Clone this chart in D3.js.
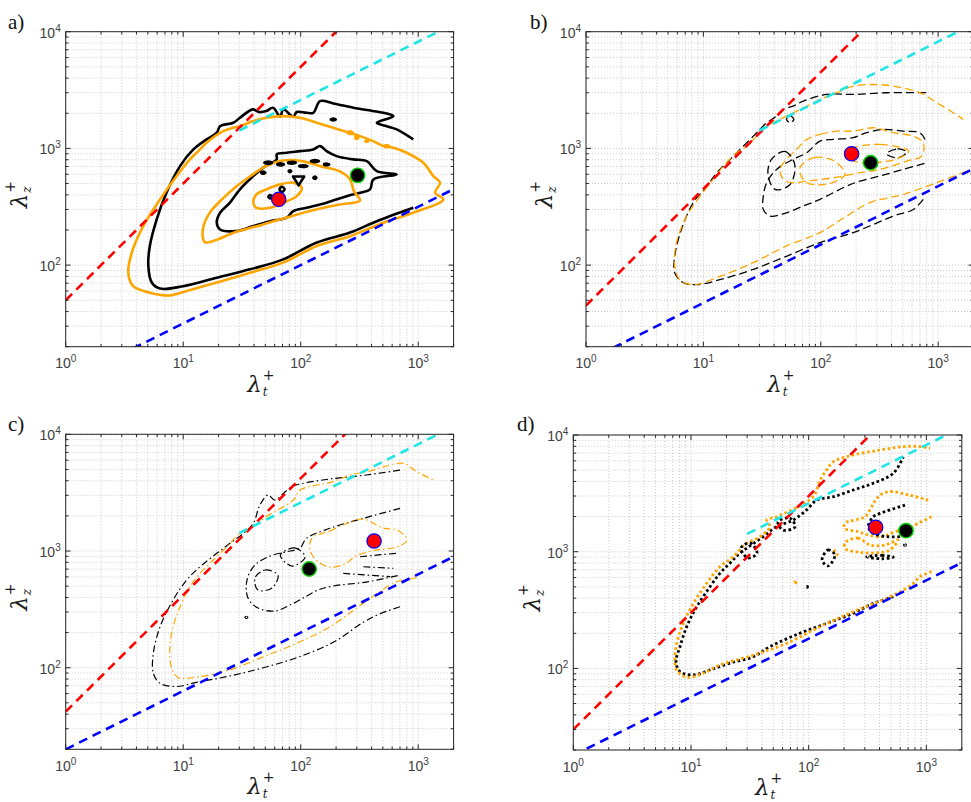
<!DOCTYPE html>
<html>
<head>
<meta charset="utf-8">
<script src="https://cdn.jsdelivr.net/npm/d3@7"></script>
<style>
  body { margin: 0; background: #ffffff; }
  svg { display: block; }
</style>
</head>
<body>
<svg id="fig" width="971" height="802"></svg>
<script>
// ---------- axes ----------
const LT_DOMAIN = [1, 2000];
const LZ_DOMAIN = [20, 10000];
const LT_MAJOR = [1, 10, 100, 1000];
const LZ_MAJOR = [100, 1000, 10000];
const PANEL_TAGS = ["a)", "b)", "c)", "d)"];

// ---------- guide lines  lambda_z = k * lambda_t^p ----------
const RED_COEF = [50, 45, 42, 30];       // p = 1
const CYAN_COEF = [260, 260, 260, 260];  // p = 1/2, from lambda_t = 30
const BLUE_COEF = [10, 15, 20, 18];      // p = 1/2
const CYAN_START = 30;

// ---------- spectral peaks ----------
const PEAK_RED = [[65, 366], [183, 900], [421, 1218], [371, 1618]];
const PEAK_BLACK = [[305, 588], [266, 754], [118, 701], [671, 1514]];

// ---------- panel a contours (lambda_t, lambda_z) ----------
const aBlackOuter = [[908,310],[444,238],[263,190],[137,156],[71,112],[37,92],[19.3,78],[10,66],[6.35,63],[5.4,71],[5.05,98],[5.2,146],[5.95,247],[7.2,417],[9.4,705],[12.2,980],[15.8,1194],[19.3,1364],[20.6,1550],[26.7,1660],[30.4,1830],[39,2160],[44,2050],[51,2090],[58,2230],[67,1870],[71,2160],[86.5,1870],[92.5,2050],[112,2020],[128,2020],[146,2540],[189,2430],[280,2230],[365,2130],[505,2020],[614,1890],[444,1660],[540,1550],[656,1455],[908,1194]];
const aBlackMid = [[19.3,231],[20.6,281],[25,343],[30.4,446],[39.5,580],[48,684],[62.5,805],[62.5,889],[76,918],[98.6,948],[128,980],[146,1047],[166,948],[202,859],[280,805],[365,778],[444,638],[656,598],[415,542],[389,446],[320,417],[246,390],[166,343],[112,310],[86.5,290],[76,255],[55,238],[39.5,216],[28.5,196],[20.6,202]];
const aOrangeOuter = [[1636,366],[908,281],[505,231],[263,177],[137,146],[71,105],[37,86],[19.3,71],[10.7,60],[7.7,55],[5.2,58],[3.76,66],[3.41,86],[3.65,128],[4.57,216],[6.35,366],[8.8,580],[11.4,805],[13.9,980],[15.8,1119],[21.9,1406],[26.7,1503],[30.4,1550],[39.5,1714],[51,1830],[71,1890],[98.6,1830],[137,1660],[189,1503],[320,1274],[415,1155],[505,1047],[614,1014],[798,918],[1105,754],[1344,580],[1535,508],[1390,417]];
const aOrangeMid = [[14.8,166],[14.8,210],[16.9,283],[21.4,366],[27.6,463],[37,575],[50,701],[71,789],[105,774],[146,705],[216,635],[263,542],[284,428],[320,358],[216,331],[146,306],[93,272],[48,223],[27.6,191],[18.7,163],[15.3,157]];
const aOrangeInner = [[39.5,343],[42,404],[51,446],[67,492],[86.5,508],[102,460],[92.5,390],[71,343],[55,310],[42,310]];
const aBlackIslands = [
  [[49,754],[53,772],[57,754],[53,737]],
  [[63,729],[67,745],[72,729],[67,713]],
  [[78,754],[84,768],[91,754],[84,740]],
  [[97,705],[105,718],[114,705],[105,692]],
  [[122,778],[132,795],[143,778],[132,762]],
  [[158,729],[166,740],[175,729],[166,718]],
  [[46,619],[48,632],[50,619],[48,606]],
  [[79,638],[81,650],[83,638],[81,626]],
  [[128,561],[132,575],[136,561],[132,548]],
  [[66,446],[69,470],[73,446],[69,425]],
  [[53,385],[55,398],[57,385],[55,373]],
  [[180,1770],[189,1800],[199,1770],[189,1740]]
];
const aBlackTriangle = [[86,575],[107,575],[96,482]];
const aOrangeIslands = [
  [[250,1364],[263,1400],[277,1364],[263,1330]],
  [[290,1236],[300,1265],[310,1236],[300,1208]],
  [[355,1155],[365,1175],[376,1155],[365,1136]],
  [[515,1047],[540,1070],[566,1047],[540,1025]]
];

// ---------- panel b contours ----------
const bBlackOuter = [[747,366],[614,300],[415,263],[189,190],[98.5,156],[51,119],[26.6,92],[13.8,75],[8.8,68],[6.7,71],[5.7,86],[5.7,119],[6.5,202],[8.2,343],[10.7,475],[13,619],[16.9,805],[20.5,980],[25,1194],[30.3,1455],[34.6,1660],[42,1890],[48,2160],[58,2300],[71,2540],[112,2900],[189,2900],[364,3000],[798,3000]];
const bOrangeOuter = [[1750,638],[971,508],[505,404],[262,343],[166,263],[98.5,190],[51,146],[26.6,105],[13.8,80],[8.2,68],[6.3,75],[5.7,98],[5.9,156],[7.2,263],[9.4,390],[12.1,542],[14.8,705],[19.2,918],[23.4,1047],[28.4,1274],[34.6,1550],[51,1890],[76,2300],[98.5,2630],[137,3000],[189,3420],[280,3530],[415,3420],[700,3000],[971,2470],[1345,2020],[1636,1774]];
const bBlackMid = [[773,1194],[700,1364],[505,1406],[341,1455],[246,1364],[189,1236],[128,1194],[98.5,1155],[76,918],[58,805],[42,661],[34.6,508],[32.4,390],[32.4,300],[37,263],[51,281],[71,321],[98.5,366],[166,475],[216,525],[319,580],[505,661],[798,754]];
const bOrangeMid = [[76,1194],[98.5,1318],[137,1406],[189,1406],[280,1503],[415,1364],[614,1274],[747,1119],[723,859],[540,778],[319,661],[216,619],[128,561],[76,525],[58,508],[48,542],[45,661],[51,805],[62,980]];
const bBlackIslands = [
  [[363,900],[450,990],[540,930],[450,830]],
  [[38,805],[49.5,943],[60,729],[54.7,491],[40.7,446],[35.5,598]],
  [[51,1774],[55,1900],[59,1774],[55,1660]]
];
const bOrangeIslands = [
  [[177,980],[319,1082],[562,943],[428,805],[216,759],[161,853]],
  [[66.5,687],[89,837],[132,774],[161,598],[109,491],[73,521]]
];

// ---------- panel c contours ----------
const cBlackOuter = [[700,333],[473,290],[341,245],[189,165],[92.5,122],[48,100],[25,85],[13,75],[8.8,69],[6.35,73.5],[5.57,89.5],[5.57,133],[6.35,224],[8.2,380],[10.7,564],[13.9,733],[19.3,955],[25,1164],[32.5,1418],[39.5,1726],[45,2480],[52.7,3020],[60,2735],[73.5,3205],[84,3560],[98.6,3750],[177,4140],[360,4480],[700,4940]];
const cOrangeOuter = [[971,587],[656,546],[341,356],[177,224],[92.5,162],[48,124],[25,96],[13,83],[9.4,81],[8.7,85],[7.9,102],[7.7,151],[8.2,224],[9.4,333],[11.4,494],[13.9,644],[18,837],[23.5,1088],[30.4,1418],[39.5,1616],[51,1970],[86.5,2735],[98.6,3330],[189,3930],[263,4480],[365,4780],[747,5640],[971,4780],[1345,4060]];
const cBlackMid = [[700,2320],[341,1905],[177,1566],[112,1284],[98.6,1062],[73.5,980],[55,906],[40.8,759],[34.9,564],[35.6,395],[43.3,325],[60.4,306],[84,351],[109,404],[140,463],[188,501],[360,542],[700,622]];
const cOrangeMid = [[125,1292],[177,1483],[229,1670],[339,1880],[501,1574],[660,1514],[803,1242],[660,1082],[446,1021],[295,906],[238,774],[177,729],[138,821],[120,1021]];
const cBlackStreaks = [
  [[320,893],[480,930],[656,955]],
  [[341,733],[614,711]],
  [[230,644],[575,603]]
];
const cBlackIslands = [
  [[40.8,587],[49.7,687],[64,622],[57,482],[43.3,463]],
  [[67,924],[89,1062],[109,889],[84,743]],
  [[33.5,270],[34.5,276],[35.5,270],[34.5,264]]
];

// ---------- panel d contours ----------
const dBlackOuter = [[524,411],[354,361],[239,297],[142,243],[84,200],[47,154],[33.8,126],[21.4,111],[14.5,97],[10.5,88],[8.07,94],[7.46,114],[8.07,154],[9.2,228],[11.2,338],[14.5,501],[17.6,653],[21.4,796],[26,968],[41,1345],[53.5,1640],[74,1870],[96,2280],[117,2770],[162,2960],[239,3380],[354,3860],[524,4700],[637,6510]];
const dOrangeOuter = [[1110,675],[883,611],[774,536],[637,470],[460,399],[239,306],[125,228],[65,164],[33.8,130],[17.6,107],[12.7,91],[9.2,84],[7.56,97],[7.3,118],[7.56,164],[8.6,243],[10.5,361],[13.6,536],[17.6,743],[22.9,906],[29.7,1180],[38.6,1345],[47,1640],[44,1870],[53.5,1995],[109,2960],[125,4110],[142,5010],[162,5900],[239,6740],[404,7430],[637,7940],[883,7940],[1074,7690]];
const dOrangeUpper = [[1038,2770],[702,3070],[474,3270],[390,2960],[343,2430],[301,1995],[203,1750],[203,1585],[264,1483],[321,1390],[417,1345],[541,1483],[702,1585],[853,1750],[1110,1995]];
const dOrangeLoop = [[203,1188],[262,1310],[332,1141],[445,1141],[574,1260],[490,1035],[366,975],[262,994],[207,1054]];
const dBlackInner = [[658,2510],[404,2130],[354,1995],[321,1640],[354,1438],[460,1345],[597,1345]];
const dBlackIslands = [
  [[311,906],[420,930],[524,900],[420,870]],
  [[130,849],[146,1035],[167,937],[146,755]],
  [[26.6,1076],[31.7,1188],[36.4,975],[30.5,883]],
  [[54.8,1795],[69,1945],[76.5,1630],[60.5,1535]],
  [[650,1141],[658,1150],[666,1141],[658,1132]],
  [[94,501],[96,508],[98,501],[96,494]]
];
const dOrangeArcs = [[[162,1035],[175,960],[165,890]]];
const dOrangeIslands = [[[74,543],[76,550],[78,543],[76,536]]];

// ---------- figure layout ----------
const BLACK = "#000000", ORANGE = "#ffa500";
const panels = [
  { left: 65.7, top: 31.7, width: 387.9, height: 315, tag: [8, 29], ylab: 27,
    stroke: { width: 2.6, dash: null },
    open: [[aBlackOuter, BLACK]],
    closed: [[aBlackMid, BLACK], [aOrangeOuter, ORANGE], [aOrangeMid, ORANGE], [aOrangeInner, ORANGE]],
    islands: [[aBlackIslands, BLACK], [aOrangeIslands, ORANGE]],
    polys: [[aBlackTriangle, BLACK]] },
  { left: 586, top: 31.7, width: 387.5, height: 315, tag: [530, 29], ylab: 552,
    stroke: { width: 1.3, dash: "8 4" },
    open: [[bBlackOuter, BLACK], [bOrangeOuter, ORANGE], [bBlackMid, BLACK]],
    closed: [[bOrangeMid, ORANGE]],
    islands: [[bBlackIslands, BLACK], [bOrangeIslands, ORANGE]],
    polys: [] },
  { left: 65.7, top: 434.3, width: 387.9, height: 315, tag: [8, 431], ylab: 27,
    stroke: { width: 1.2, dash: "7 3 1.5 3" },
    open: [[cBlackOuter, BLACK], [cOrangeOuter, ORANGE], [cBlackMid, BLACK]]
      .concat(cBlackStreaks.map(s => [s, BLACK])),
    closed: [[cOrangeMid, ORANGE]],
    islands: [[cBlackIslands, BLACK]],
    polys: [] },
  { left: 573.3, top: 435, width: 388.5, height: 315, tag: [517, 431], ylab: 540,
    stroke: { width: 2.8, dash: "2.6 2.6" },
    open: [[dBlackOuter, BLACK], [dOrangeOuter, ORANGE], [dOrangeUpper, ORANGE], [dBlackInner, BLACK]]
      .concat(dOrangeArcs.map(s => [s, ORANGE])),
    closed: [[dOrangeLoop, ORANGE]],
    islands: [[dBlackIslands, BLACK], [dOrangeIslands, ORANGE]],
    polys: [] }
];

const svg = d3.select("#fig");
const AXIS_COLOR = "#262626";
const TICK_COLOR = "#404040";
const TICK_FONT = "'Liberation Sans', Arial, Helvetica, sans-serif";
const MATH_FONT = "'DejaVu Serif', 'Liberation Serif', serif";

function minorTicks(domain) {
  const out = [];
  for (let e = Math.floor(Math.log10(domain[0])); e <= Math.ceil(Math.log10(domain[1])); e++) {
    for (let m = 1; m <= 9; m++) {
      const v = m * Math.pow(10, e);
      if (v >= domain[0] - 1e-9 && v <= domain[1] + 1e-9) out.push(v);
    }
  }
  return out;
}

function powerLabel(text, v) {
  const e = Math.round(Math.log10(v));
  text.append("tspan").text("10");
  text.append("tspan").attr("dy", -6).attr("font-size", 10).text(e);
}

// lambda with stacked superscript "+" and a subscript letter
function lambdaLabel(g, sub) {
  g.append("text").attr("x", 0).attr("y", 0)
    .attr("font-family", MATH_FONT).attr("font-style", "italic").attr("font-size", 23)
    .attr("fill", "#1a1a1a").text("\u03bb");
  g.append("text").attr("x", 15.5).attr("y", -12)
    .attr("font-family", MATH_FONT).attr("font-size", 14)
    .attr("fill", "#1a1a1a").text("+");
  g.append("text").attr("x", 15.5).attr("y", 4)
    .attr("font-family", MATH_FONT).attr("font-style", "italic").attr("font-size", 12)
    .attr("fill", "#1a1a1a").text(sub);
}

panels.forEach((p, i) => {
  const x = d3.scaleLog().domain(LT_DOMAIN).range([p.left, p.left + p.width]);
  const y = d3.scaleLog().domain(LZ_DOMAIN).range([p.top + p.height, p.top]);
  const g = svg.append("g");
  const clipId = "clip" + i;
  svg.append("clipPath").attr("id", clipId).append("rect")
    .attr("x", p.left).attr("y", p.top).attr("width", p.width).attr("height", p.height);

  const xMinor = minorTicks(LT_DOMAIN);
  const yMinor = minorTicks(LZ_DOMAIN);

  // dotted grid
  const grid = g.append("g").attr("stroke", "#bdbdbd").attr("stroke-width", 0.8)
    .attr("stroke-dasharray", "1 2");
  xMinor.forEach(v => grid.append("line").attr("x1", x(v)).attr("x2", x(v))
    .attr("y1", p.top).attr("y2", p.top + p.height));
  yMinor.forEach(v => grid.append("line").attr("y1", y(v)).attr("y2", y(v))
    .attr("x1", p.left).attr("x2", p.left + p.width));

  // contours
  const plot = g.append("g").attr("clip-path", `url(#${clipId})`);
  const cont = plot.append("g").attr("fill", "none")
    .attr("stroke-width", p.stroke.width)
    .attr("stroke-linejoin", "round")
    .attr("stroke-dasharray", p.stroke.dash);
  const openLine = d3.line().x(d => x(d[0])).y(d => y(d[1])).curve(d3.curveCatmullRom.alpha(0.5));
  const closedLine = d3.line().x(d => x(d[0])).y(d => y(d[1])).curve(d3.curveCatmullRomClosed.alpha(0.5));
  const polyLine = d3.line().x(d => x(d[0])).y(d => y(d[1])).curve(d3.curveLinearClosed);

  p.open.forEach(([pts, col]) => cont.append("path").attr("d", openLine(pts)).attr("stroke", col));
  p.closed.forEach(([pts, col]) => cont.append("path").attr("d", closedLine(pts)).attr("stroke", col));
  p.islands.forEach(([rings, col]) => rings.forEach(r =>
    cont.append("path").attr("d", closedLine(r)).attr("stroke", col)));
  p.polys.forEach(([pts, col]) => cont.append("path").attr("d", polyLine(pts)).attr("stroke", col));

  // power-law guides
  const guide = d3.line().x(d => x(d[0])).y(d => y(d[1]));
  const ends = [LT_DOMAIN[0], LT_DOMAIN[1]];
  const gd = plot.append("g").attr("fill", "none").attr("stroke-width", 2.6)
    .attr("stroke-dasharray", "9 6");
  gd.append("path").attr("stroke", "#ff0000")
    .attr("d", guide(ends.map(t => [t, RED_COEF[i] * t])));
  gd.append("path").attr("stroke", "#1ee6e6")
    .attr("d", guide([CYAN_START, LT_DOMAIN[1]].map(t => [t, CYAN_COEF[i] * Math.sqrt(t)])));
  gd.append("path").attr("stroke", "#0000ff")
    .attr("d", guide(ends.map(t => [t, BLUE_COEF[i] * Math.sqrt(t)])));

  // peaks
  plot.append("circle").attr("cx", x(PEAK_RED[i][0])).attr("cy", y(PEAK_RED[i][1])).attr("r", 7.2)
    .attr("fill", "#ff0000").attr("stroke", "#0000ff").attr("stroke-width", 1.2);
  plot.append("circle").attr("cx", x(PEAK_BLACK[i][0])).attr("cy", y(PEAK_BLACK[i][1])).attr("r", 7.2)
    .attr("fill", "#000000").attr("stroke", "#00d000").attr("stroke-width", 1.4);

  // frame and inward ticks
  const ax = g.append("g").attr("stroke", AXIS_COLOR).attr("fill", "none");
  ax.append("rect").attr("x", p.left).attr("y", p.top).attr("width", p.width).attr("height", p.height)
    .attr("stroke-width", 1);
  const bottom = p.top + p.height, right = p.left + p.width;
  xMinor.forEach(v => {
    const len = LT_MAJOR.includes(v) ? 5 : 2.8;
    ax.append("line").attr("x1", x(v)).attr("x2", x(v)).attr("y1", bottom).attr("y2", bottom - len);
    ax.append("line").attr("x1", x(v)).attr("x2", x(v)).attr("y1", p.top).attr("y2", p.top + len);
  });
  yMinor.forEach(v => {
    const len = LZ_MAJOR.includes(v) ? 5 : 2.8;
    ax.append("line").attr("y1", y(v)).attr("y2", y(v)).attr("x1", p.left).attr("x2", p.left + len);
    ax.append("line").attr("y1", y(v)).attr("y2", y(v)).attr("x1", right).attr("x2", right - len);
  });

  // tick labels
  LT_MAJOR.forEach(v => {
    const t = g.append("text").attr("x", x(v)).attr("y", bottom + 21.5)
      .attr("text-anchor", "middle").attr("font-family", TICK_FONT).attr("font-size", 14)
      .attr("fill", TICK_COLOR);
    powerLabel(t, v);
  });
  LZ_MAJOR.forEach(v => {
    const t = g.append("text").attr("x", p.left - 5).attr("y", y(v) + 6)
      .attr("text-anchor", "end").attr("font-family", TICK_FONT).attr("font-size", 14)
      .attr("fill", TICK_COLOR);
    powerLabel(t, v);
  });

  // axis titles
  lambdaLabel(g.append("g").attr("transform", `translate(${p.left + p.width / 2 - 12.5},${bottom + 45})`), "t");
  lambdaLabel(g.append("g").attr("transform", `translate(${p.ylab},${p.top + p.height / 2 + 19}) rotate(-90)`), "z");

  // panel tag
  g.append("text").attr("x", p.tag[0]).attr("y", p.tag[1])
    .attr("font-family", "'Liberation Serif', serif").attr("font-size", 21).attr("fill", "#111")
    .text(PANEL_TAGS[i]);
});
</script>
</body>
</html>
